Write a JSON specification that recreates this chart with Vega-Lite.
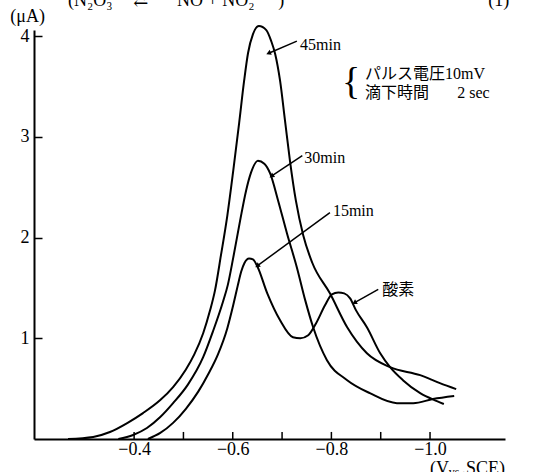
{
  "$schema": "https://vega.github.io/schema/vega-lite/v6.json",
  "width": 471,
  "height": 409,
  "autosize": {"type": "none"},
  "padding": {"left": 34, "top": 30, "right": 31, "bottom": 33},
  "background": "white",
  "config": {"view": {"stroke": null}},
  "datasets": {
    "curves": [
      {"series": "45min", "v": -0.266, "i": 0.0},
      {"series": "45min", "v": -0.317, "i": 0.02},
      {"series": "45min", "v": -0.351, "i": 0.069},
      {"series": "45min", "v": -0.386, "i": 0.158},
      {"series": "45min", "v": -0.418, "i": 0.257},
      {"series": "45min", "v": -0.453, "i": 0.386},
      {"series": "45min", "v": -0.479, "i": 0.515},
      {"series": "45min", "v": -0.505, "i": 0.69},
      {"series": "45min", "v": -0.522, "i": 0.84},
      {"series": "45min", "v": -0.54, "i": 1.05},
      {"series": "45min", "v": -0.554, "i": 1.277},
      {"series": "45min", "v": -0.564, "i": 1.475},
      {"series": "45min", "v": -0.576, "i": 1.822},
      {"series": "45min", "v": -0.589, "i": 2.218},
      {"series": "45min", "v": -0.601, "i": 2.663},
      {"series": "45min", "v": -0.613, "i": 3.139},
      {"series": "45min", "v": -0.623, "i": 3.554},
      {"series": "45min", "v": -0.631, "i": 3.832},
      {"series": "45min", "v": -0.641, "i": 4.02},
      {"series": "45min", "v": -0.653, "i": 4.099},
      {"series": "45min", "v": -0.668, "i": 4.059},
      {"series": "45min", "v": -0.678, "i": 3.95},
      {"series": "45min", "v": -0.686, "i": 3.822},
      {"series": "45min", "v": -0.696, "i": 3.554},
      {"series": "45min", "v": -0.706, "i": 3.158},
      {"series": "45min", "v": -0.716, "i": 2.762},
      {"series": "45min", "v": -0.728, "i": 2.366},
      {"series": "45min", "v": -0.743, "i": 2.02},
      {"series": "45min", "v": -0.761, "i": 1.752},
      {"series": "45min", "v": -0.797, "i": 1.446},
      {"series": "45min", "v": -0.832, "i": 1.109},
      {"series": "45min", "v": -0.872, "i": 0.851},
      {"series": "45min", "v": -0.919, "i": 0.713},
      {"series": "45min", "v": -0.98, "i": 0.634},
      {"series": "45min", "v": -1.02, "i": 0.554},
      {"series": "45min", "v": -1.053, "i": 0.495},
      {"series": "30min", "v": -0.368, "i": 0.0},
      {"series": "30min", "v": -0.398, "i": 0.04},
      {"series": "30min", "v": -0.426, "i": 0.109},
      {"series": "30min", "v": -0.453, "i": 0.218},
      {"series": "30min", "v": -0.479, "i": 0.356},
      {"series": "30min", "v": -0.509, "i": 0.54},
      {"series": "30min", "v": -0.54, "i": 0.812},
      {"series": "30min", "v": -0.56, "i": 1.07},
      {"series": "30min", "v": -0.58, "i": 1.36},
      {"series": "30min", "v": -0.59, "i": 1.53},
      {"series": "30min", "v": -0.601, "i": 1.8},
      {"series": "30min", "v": -0.615, "i": 2.17},
      {"series": "30min", "v": -0.627, "i": 2.465},
      {"series": "30min", "v": -0.637, "i": 2.644},
      {"series": "30min", "v": -0.651, "i": 2.762},
      {"series": "30min", "v": -0.664, "i": 2.733},
      {"series": "30min", "v": -0.676, "i": 2.634},
      {"series": "30min", "v": -0.692, "i": 2.366},
      {"series": "30min", "v": -0.71, "i": 2.04},
      {"series": "30min", "v": -0.73, "i": 1.703},
      {"series": "30min", "v": -0.747, "i": 1.376},
      {"series": "30min", "v": -0.763, "i": 1.109},
      {"series": "30min", "v": -0.791, "i": 0.782},
      {"series": "30min", "v": -0.832, "i": 0.584},
      {"series": "30min", "v": -0.878, "i": 0.455},
      {"series": "30min", "v": -0.933, "i": 0.356},
      {"series": "30min", "v": -0.966, "i": 0.356},
      {"series": "30min", "v": -1.006, "i": 0.396},
      {"series": "30min", "v": -1.049, "i": 0.426},
      {"series": "15min", "v": -0.428, "i": 0.0},
      {"series": "15min", "v": -0.453, "i": 0.06},
      {"series": "15min", "v": -0.479, "i": 0.16},
      {"series": "15min", "v": -0.505, "i": 0.3},
      {"series": "15min", "v": -0.53, "i": 0.47},
      {"series": "15min", "v": -0.551, "i": 0.65},
      {"series": "15min", "v": -0.57, "i": 0.84},
      {"series": "15min", "v": -0.589, "i": 1.1},
      {"series": "15min", "v": -0.601, "i": 1.33},
      {"series": "15min", "v": -0.61, "i": 1.52},
      {"series": "15min", "v": -0.617, "i": 1.66},
      {"series": "15min", "v": -0.624, "i": 1.75},
      {"series": "15min", "v": -0.633, "i": 1.792},
      {"series": "15min", "v": -0.641, "i": 1.782},
      {"series": "15min", "v": -0.649, "i": 1.723},
      {"series": "15min", "v": -0.67, "i": 1.446},
      {"series": "15min", "v": -0.696, "i": 1.178},
      {"series": "15min", "v": -0.722, "i": 1.01},
      {"series": "15min", "v": -0.737, "i": 1.0},
      {"series": "15min", "v": -0.753, "i": 1.03},
      {"series": "15min", "v": -0.769, "i": 1.149},
      {"series": "15min", "v": -0.787, "i": 1.327},
      {"series": "15min", "v": -0.801, "i": 1.436},
      {"series": "15min", "v": -0.814, "i": 1.455},
      {"series": "15min", "v": -0.826, "i": 1.446},
      {"series": "15min", "v": -0.838, "i": 1.396},
      {"series": "15min", "v": -0.85, "i": 1.277},
      {"series": "15min", "v": -0.872, "i": 1.109},
      {"series": "15min", "v": -0.899, "i": 0.851},
      {"series": "15min", "v": -0.919, "i": 0.713},
      {"series": "15min", "v": -0.945, "i": 0.584},
      {"series": "15min", "v": -0.98, "i": 0.455},
      {"series": "15min", "v": -1.014, "i": 0.376},
      {"series": "15min", "v": -1.028, "i": 0.347}
    ],
    "arrows": [
      {"label": "45min", "v": -0.674, "i": 3.832, "v2": -0.73, "i2": 3.95},
      {"label": "30min", "v": -0.68, "i": 2.614, "v2": -0.741, "i2": 2.812},
      {"label": "15min", "v": -0.651, "i": 1.723, "v2": -0.797, "i2": 2.248},
      {"label": "酸素", "v": -0.848, "i": 1.356, "v2": -0.895, "i2": 1.485}
    ],
    "notes": [
      {"t": "45min", "v": -0.7365, "i": 3.911},
      {"t": "30min", "v": -0.745, "i": 2.792},
      {"t": "15min", "v": -0.803, "i": 2.267},
      {"t": "酸素", "v": -0.903, "i": 1.475},
      {"t": "パルス電圧10mV", "v": -0.868, "i": 3.624},
      {"t": "滴下時間", "v": -0.868, "i": 3.436},
      {"t": "2 sec", "v": -1.055, "i": 3.436}
    ],
    "big": [
      {"t": "(μA)", "v": -0.149, "i": 4.19},
      {"t": "(N₂O₃", "v": -0.266, "i": 4.347},
      {"t": "⇄", "v": -0.398, "i": 4.347},
      {"t": "NO + NO₂", "v": -0.487, "i": 4.347},
      {"t": ")", "v": -0.692, "i": 4.347},
      {"t": "(1)", "v": -1.118, "i": 4.347}
    ],
    "xticks": [
      {"v": -0.4}, {"v": -0.5}, {"v": -0.6}, {"v": -0.7}, {"v": -0.8}, {"v": -0.9}, {"v": -1.0}
    ]
  },
  "layer": [
    {
      "data": {"name": "curves"},
      "mark": {"type": "line", "interpolate": "monotone", "strokeWidth": 2, "color": "black"},
      "encoding": {
        "x": {
          "field": "v", "type": "quantitative",
          "scale": {"domain": [-1.152, -0.197], "reverse": true, "nice": false, "zero": false},
          "axis": {
            "title": null, "grid": false,
            "values": [-0.4, -0.5, -0.6, -0.7, -0.8, -0.9, -1.0],
            "labelExpr": "abs(round(datum.value*10)) % 2 == 0 ? format(datum.value, '.1f') : ''",
            "ticks": false,
            "labelPadding": 1, "labelFontSize": 18, "labelColor": "black",
            "labelFont": "'Liberation Serif', serif",
            "domainColor": "black", "domainWidth": 2
          }
        },
        "y": {
          "field": "i", "type": "quantitative",
          "scale": {"domain": [0, 4.06], "nice": false},
          "axis": {
            "title": null, "grid": false,
            "values": [1, 2, 3, 4], "format": "d",
            "tickSize": -8, "tickWidth": 1.5, "tickColor": "black",
            "labelPadding": 13, "labelFontSize": 18, "labelColor": "black",
            "labelFont": "'Liberation Serif', serif",
            "domainColor": "black", "domainWidth": 2
          }
        },
        "detail": {"field": "series"},
        "order": {"field": "v", "sort": "descending"}
      }
    },
    {
      "data": {"name": "xticks"},
      "mark": {"type": "rule", "strokeWidth": 1.5, "color": "black"},
      "encoding": {
        "x": {"field": "v", "type": "quantitative"},
        "y": {"datum": 0, "type": "quantitative"},
        "y2": {"datum": 0.07}
      }
    },
    {
      "data": {"name": "arrows"},
      "mark": {"type": "rule", "strokeWidth": 1.5, "color": "black"},
      "encoding": {
        "x": {"field": "v", "type": "quantitative"},
        "y": {"field": "i", "type": "quantitative"},
        "x2": {"field": "v2"},
        "y2": {"field": "i2"}
      }
    },
    {
      "data": {"name": "arrows"},
      "transform": [{"filter": "datum.label == '45min'"}],
      "mark": {"type": "point", "shape": "triangle", "filled": true, "color": "black", "size": 30, "angle": 247, "opacity": 1},
      "encoding": {"x": {"field": "v", "type": "quantitative"}, "y": {"field": "i", "type": "quantitative"}}
    },
    {
      "data": {"name": "arrows"},
      "transform": [{"filter": "datum.label == '30min'"}],
      "mark": {"type": "point", "shape": "triangle", "filled": true, "color": "black", "size": 30, "angle": 236, "opacity": 1},
      "encoding": {"x": {"field": "v", "type": "quantitative"}, "y": {"field": "i", "type": "quantitative"}}
    },
    {
      "data": {"name": "arrows"},
      "transform": [{"filter": "datum.label == '15min'"}],
      "mark": {"type": "point", "shape": "triangle", "filled": true, "color": "black", "size": 30, "angle": 234, "opacity": 1},
      "encoding": {"x": {"field": "v", "type": "quantitative"}, "y": {"field": "i", "type": "quantitative"}}
    },
    {
      "data": {"name": "arrows"},
      "transform": [{"filter": "datum.label == '酸素'"}],
      "mark": {"type": "point", "shape": "triangle", "filled": true, "color": "black", "size": 30, "angle": 240, "opacity": 1},
      "encoding": {"x": {"field": "v", "type": "quantitative"}, "y": {"field": "i", "type": "quantitative"}}
    },
    {
      "data": {"name": "notes"},
      "mark": {"type": "text", "align": "left", "baseline": "middle", "fontSize": 16, "color": "black", "font": "'Liberation Serif', 'Noto Sans CJK JP', serif"},
      "encoding": {
        "x": {"field": "v", "type": "quantitative"},
        "y": {"field": "i", "type": "quantitative"},
        "text": {"field": "t"}
      }
    },
    {
      "data": {"values": [{"t": "{", "v": -0.84, "i": 3.535}]},
      "mark": {"type": "text", "align": "center", "baseline": "middle", "fontSize": 38, "color": "black", "font": "'Liberation Serif', serif"},
      "encoding": {
        "x": {"field": "v", "type": "quantitative"},
        "y": {"field": "i", "type": "quantitative"},
        "text": {"field": "t"}
      }
    },
    {
      "data": {"name": "big"},
      "mark": {"type": "text", "align": "left", "baseline": "middle", "fontSize": 18, "color": "black", "font": "'Liberation Serif', 'DejaVu Serif', serif"},
      "encoding": {
        "x": {"field": "v", "type": "quantitative"},
        "y": {"field": "i", "type": "quantitative"},
        "text": {"field": "t"}
      }
    },
    {
      "data": {"values": [{"t": "(V", "v": -1.0, "i": -0.21}, {"t": ".SCE)", "v": -1.064, "i": -0.21}]},
      "mark": {"type": "text", "align": "left", "baseline": "top", "fontSize": 18, "color": "black", "font": "'Liberation Serif', serif"},
      "encoding": {
        "x": {"field": "v", "type": "quantitative"},
        "y": {"field": "i", "type": "quantitative"},
        "text": {"field": "t"}
      }
    },
    {
      "data": {"values": [{"t": "vs", "v": -1.038, "i": -0.28}]},
      "mark": {"type": "text", "align": "left", "baseline": "top", "fontSize": 12, "color": "black", "font": "'Liberation Serif', serif"},
      "encoding": {
        "x": {"field": "v", "type": "quantitative"},
        "y": {"field": "i", "type": "quantitative"},
        "text": {"field": "t"}
      }
    }
  ]
}
